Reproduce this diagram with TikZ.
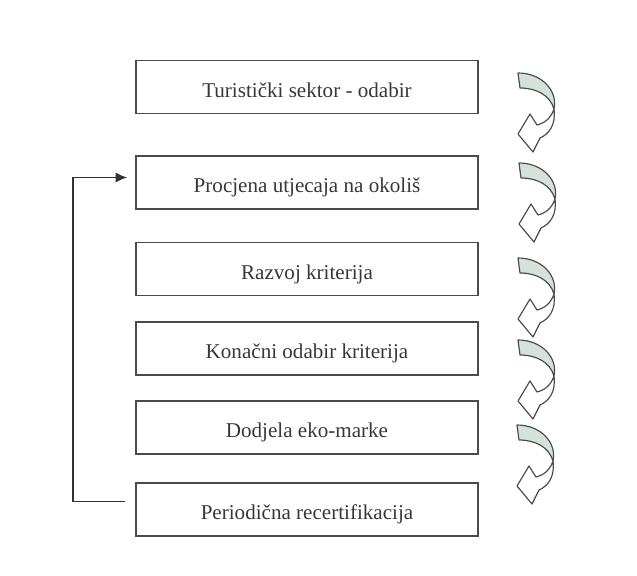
\documentclass[tikz,border=0pt]{standalone}
\usepackage{fontspec}
\setmainfont{Liberation Serif}
\usepackage{tikz}
\usetikzlibrary{arrows.meta,calc}
\usepackage{xcolor}
\definecolor{boxgray}{RGB}{75,75,75}
\definecolor{linegray}{RGB}{50,50,50}
\definecolor{textgray}{RGB}{55,55,55}
\definecolor{ribbongreen}{RGB}{212,226,219}

\begin{document}
\begin{tikzpicture}[x=0.0225cm,y=-0.0225cm,
        stage/.style={rectangle,draw=boxgray,line width=0.9pt,inner sep=0pt,
            minimum width=7.695cm,text height=0.8325cm,text depth=0.36cm,
            text=textgray,font=\fontsize{13.5}{16}\selectfont},
        feedback/.style={draw=linegray,line width=1.1pt,-{Latex[length=7.5pt,width=6.5pt]}},
        turnarrow/.pic={
            % upper (shaded) half of the ribbon
            \draw[boxgray,line width=0.75pt,fill=ribbongreen,line join=round]
                (0,0) .. controls (24,0) and (40,18) .. (36,36)
                .. controls (32,22) and (18,15) .. (2,15) -- cycle;
            % lower half with the open head
            \draw[boxgray,line width=0.75pt,fill=white,line join=round]
                (36,36) .. controls (38,52) and (31,61) .. (22,65)
                -- (15,79) -- (0,61) -- (12,41) -- (19,52)
                .. controls (27,50) and (33,45) .. (36,36) -- cycle;
        }]
        \useasboundingbox (0,0) rectangle (637,576);

        % Stages
        \node[stage] (sektor) at (307,87) {Turistički sektor - odabir};
        \node[stage] (procjena) at (307,182.5) {Procjena utjecaja na okoliš};
        \node[stage] (razvoj) at (307,269) {Razvoj kriterija};
        \node[stage] (konacni) at (307,348.5) {Konačni odabir kriterija};
        \node[stage] (dodjela) at (307,427.5) {Dodjela eko-marke};
        \node[stage] (recert) at (307,509.5) {Periodična recertifikacija};

        % Turning arrows on the right
        \pic at (518,73) {turnarrow};
        \pic at (519,163) {turnarrow};
        \pic at (518,258) {turnarrow};
        \pic at (518,340) {turnarrow};
        \pic at (517,425) {turnarrow};

        % Loop back
        \draw[feedback] ($(recert.west)+(-10,-8)$) -| ($(procjena.west)+(-62,-5)$)
            -- ($(procjena.west)+(-8,-5)$);
\end{tikzpicture}
\end{document}
